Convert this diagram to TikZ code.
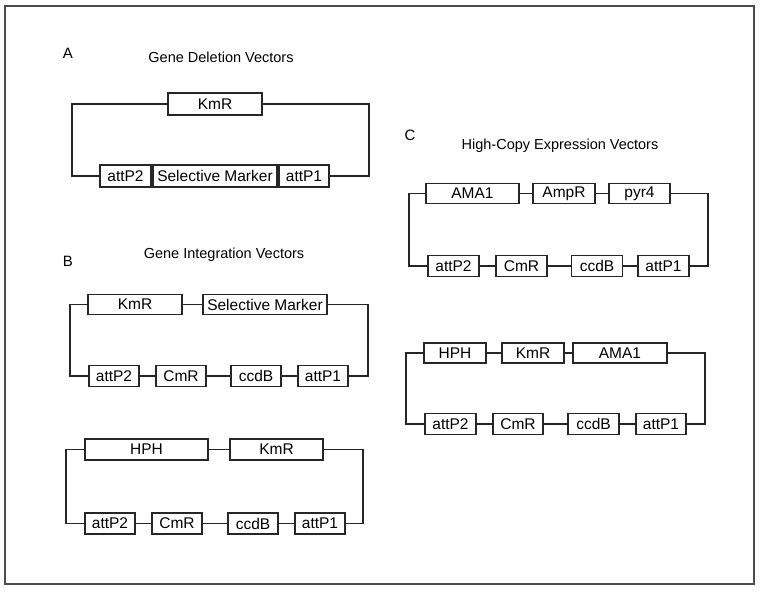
\documentclass[tikz,border=0pt]{standalone}
\usepackage{fontspec}
\setmainfont{Liberation Sans}
\usetikzlibrary{positioning}
\tikzset{
  gene/.style={draw=black!85,line width=1.3pt,minimum height=21pt,inner sep=0pt,font=\fontsize{15.5}{17}\selectfont},
  wire/.style={draw=black!85,line width=1.3pt},
  heading/.style={font=\fontsize{14.5}{17}\selectfont},
  panel/.style={font=\fontsize{15}{17}\selectfont}
}
\begin{document}
\begin{tikzpicture}[x=1pt,y=-1pt]
      \useasboundingbox (0,0) rectangle (761,591);
      \draw[line width=1.5pt,black!70] (5,6) rectangle (754,584);
      % panel A
      \node[panel] (labA) at (68,53) {A};
      \node[heading] (titA) at (221,57) {Gene Deletion Vectors};
      \node[gene,minimum width=94pt,minimum height=22pt] (kmA) at (215,104) {KmR};
      \node[gene,minimum width=51pt,minimum height=22pt] (p2A) at (125.5,176) {attP2};
      \node[gene,minimum width=124pt,minimum height=22pt] (smA) at (215,176) {Selective Marker};
      \node[gene,minimum width=50pt,minimum height=22pt] (p1A) at (304,176) {attP1};
      \coordinate (aL) at (72,0);
      \coordinate (aR) at (369,0);
      \draw[wire] (kmA.west) -- (kmA.west -| aL) -- (p2A.west -| aL) -- (p2A.west);
      \draw[wire] (kmA.east) -- (kmA.east -| aR) -- (p1A.east -| aR) -- (p1A.east);
      % panel B
      \node[panel] (labB) at (68,261) {B};
      \node[heading] (titB) at (224,255) {Gene Integration Vectors};
      \node[gene,minimum width=94pt,minimum height=20pt] (kmB) at (135,304.5) {KmR};
      \node[gene,minimum width=124pt,minimum height=20pt] (smB) at (265,304.5) {Selective Marker};
      \node[gene,minimum width=50pt] (p2B) at (114,376) {attP2};
      \node[gene,minimum width=50pt] (cmB) at (181,376) {CmR};
      \node[gene,minimum width=50pt] (ccB) at (256,376) {ccdB};
      \node[gene,minimum width=50pt] (p1B) at (323,376) {attP1};
      \coordinate (bL) at (70,0);
      \coordinate (bR) at (368,0);
      \draw[wire] (kmB.west) -- (kmB.west -| bL) -- (p2B.west -| bL) -- (p2B.west);
      \draw[wire] (smB.east) -- (smB.east -| bR) -- (p1B.east -| bR) -- (p1B.east);
      \foreach \a/\b in {kmB/smB,p2B/cmB,cmB/ccB,ccB/p1B}
        \draw[wire] (\a) -- (\b);
      \node[gene,minimum width=123pt] (hpD) at (146.5,449.5) {HPH};
      \node[gene,minimum width=93pt] (kmD) at (276.5,449.5) {KmR};
      \node[gene,minimum width=50pt] (p2D) at (110,523.5) {attP2};
      \node[gene,minimum width=50pt] (cmD) at (177,523.5) {CmR};
      \node[gene,minimum width=50pt] (ccD) at (253,523.5) {ccdB};
      \node[gene,minimum width=50pt] (p1D) at (320,523.5) {attP1};
      \coordinate (dL) at (66,0);
      \coordinate (dR) at (363,0);
      \draw[wire] (hpD.west) -- (hpD.west -| dL) -- (p2D.west -| dL) -- (p2D.west);
      \draw[wire] (kmD.east) -- (kmD.east -| dR) -- (p1D.east -| dR) -- (p1D.east);
      \foreach \a/\b in {hpD/kmD,p2D/cmD,cmD/ccD,ccD/p1D}
        \draw[wire] (\a) -- (\b);
      % panel C
      \node[panel] (labC) at (410,135) {C};
      \node[heading] (titC) at (560,146) {High-Copy Expression Vectors};
      \node[gene,minimum width=93pt,minimum height=20pt] (amC) at (472.5,193.5) {AMA1};
      \node[gene,minimum width=62pt,minimum height=20pt] (apC) at (564,193.5) {AmpR};
      \node[gene,minimum width=61pt,minimum height=20pt] (pyC) at (639.5,193.5) {pyr4};
      \node[gene,minimum width=51pt] (p2C) at (453.5,266) {attP2};
      \node[gene,minimum width=51pt] (cmC) at (521.5,266) {CmR};
      \node[gene,minimum width=51pt] (ccC) at (597,266) {ccdB};
      \node[gene,minimum width=51pt] (p1C) at (663.5,266) {attP1};
      \coordinate (cL) at (409,0);
      \coordinate (cR) at (708,0);
      \draw[wire] (amC.west) -- (amC.west -| cL) -- (p2C.west -| cL) -- (p2C.west);
      \draw[wire] (pyC.east) -- (pyC.east -| cR) -- (p1C.east -| cR) -- (p1C.east);
      \foreach \a/\b in {amC/apC,apC/pyC,p2C/cmC,cmC/ccC,ccC/p1C}
        \draw[wire] (\a) -- (\b);
      \node[gene,minimum width=62pt,minimum height=20pt] (hpE) at (455,353) {HPH};
      \node[gene,minimum width=62pt,minimum height=20pt] (kmE) at (533,353) {KmR};
      \node[gene,minimum width=94pt,minimum height=20pt] (amE) at (620,353) {AMA1};
      \node[gene,minimum width=51pt] (p2E) at (450.5,424) {attP2};
      \node[gene,minimum width=50pt] (cmE) at (518,424) {CmR};
      \node[gene,minimum width=51pt] (ccE) at (593.5,424) {ccdB};
      \node[gene,minimum width=50pt] (p1E) at (661,424) {attP1};
      \coordinate (eL) at (406,0);
      \coordinate (eR) at (705,0);
      \draw[wire] (hpE.west) -- (hpE.west -| eL) -- (p2E.west -| eL) -- (p2E.west);
      \draw[wire] (amE.east) -- (amE.east -| eR) -- (p1E.east -| eR) -- (p1E.east);
      \foreach \a/\b in {hpE/kmE,kmE/amE,p2E/cmE,cmE/ccE,ccE/p1E}
        \draw[wire] (\a) -- (\b);
\end{tikzpicture}
\end{document}
